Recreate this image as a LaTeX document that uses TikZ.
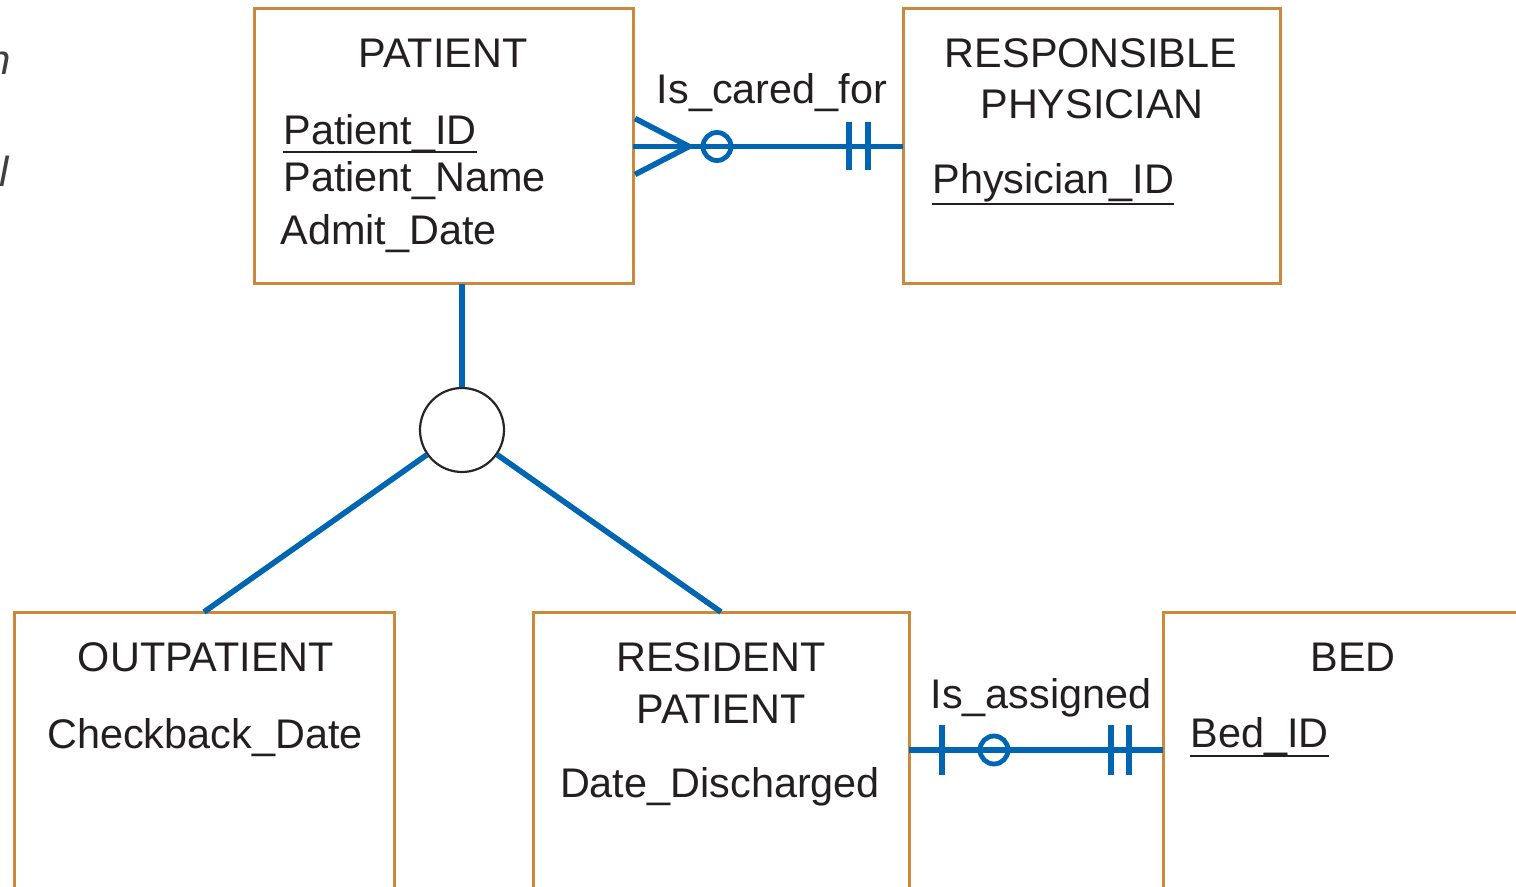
\documentclass[tikz,border=0pt]{standalone}
\usepackage{fontspec}
\setmainfont{Liberation Sans}
\usetikzlibrary{calc}
\definecolor{boxorange}{RGB}{204,137,60}
\definecolor{linkblue}{RGB}{0,102,178}
\definecolor{ink}{RGB}{35,31,32}

\begin{document}
\begin{tikzpicture}[x=0.5pt,y=-0.5pt,
  entity/.style={draw=boxorange, line width=1.5pt, anchor=north west,
                 inner sep=0pt, outer sep=0pt, rectangle},
  txt/.style={inner sep=0pt, text=ink, font=\fontsize{20.7}{25}\selectfont},
  keyline/.style={draw=ink, line width=1.4pt},
  link/.style={draw=linkblue, line width=2.8pt},
  notch/.style={draw=linkblue, line width=2.6pt},
  ring/.style={draw=linkblue, line width=2.4pt},
  isa/.style={circle, draw=black!85, line width=1.1pt, fill=white,
              minimum size=42pt, inner sep=0pt},
  margintxt/.style={inner sep=0pt, text=black!75,
                    font=\fontsize{21}{25}\selectfont\itshape}]
\useasboundingbox (0,0) rectangle (1516,887);
\clip (0,0) rectangle (1516,887);

% entity boxes (the lower row runs past the bottom edge)
\node[entity, minimum width=189.5pt, minimum height=137.5pt] (patient)   at (254,9)   {};
\node[entity, minimum width=188.5pt, minimum height=137.5pt] (physician) at (903,9)   {};
\node[entity, minimum width=190pt,   minimum height=200pt]   (outpat)    at (14,612)  {};
\node[entity, minimum width=188pt,   minimum height=200pt]   (resident)  at (533,612) {};
\node[entity, minimum width=250pt,   minimum height=200pt]   (bed)       at (1163,612) {};

% cut-off caption letters at the left margin
\node[margintxt, anchor=base east] (capA) at (11,75)  {n};
\node[margintxt, anchor=base east] (capB) at (9,187)  {l};

% PATIENT
\node[txt, anchor=base]      (ptitle) at (443,68)  {PATIENT};
\node[txt, anchor=base west] (pid)    at (283,145) {Patient\_ID};
\node[txt, anchor=base west] (pname)  at (283,192) {Patient\_Name};
\node[txt, anchor=base west] (padmit) at (280,245) {Admit\_Date};
\draw[keyline] ([yshift=-3.5pt]pid.base west) -- ([yshift=-3.5pt]pid.base east);

% RESPONSIBLE PHYSICIAN
\node[txt, anchor=base]      (rtitleA) at (1091,68)  {RESPONSIBLE};
\node[txt, anchor=base]      (rtitleB) at (1092,119) {PHYSICIAN};
\node[txt, anchor=base west] (phid)    at (932,194)  {Physician\_ID};
\draw[keyline] ([yshift=-5pt]phid.base west) -- ([yshift=-5pt]phid.base east);

% OUTPATIENT
\node[txt, anchor=base] (otitle) at (206,671) {OUTPATIENT};
\node[txt, anchor=base] (ocheck) at (205,748) {Checkback\_Date};

% RESIDENT PATIENT
\node[txt, anchor=base] (stitleA) at (721,671) {RESIDENT};
\node[txt, anchor=base] (stitleB) at (721,723) {PATIENT};
\node[txt, anchor=base] (sdis)    at (720,797) {Date\_Discharged};

% BED
\node[txt, anchor=base]      (btitle) at (1353,671) {BED};
\node[txt, anchor=base west] (bid)    at (1190,747) {Bed\_ID};
\draw[keyline] ([yshift=-4.5pt]bid.base west) -- ([yshift=-4.5pt]bid.base east);

% subtype circle and its links
\node[isa] (sub) at (462,430) {};
\draw[link] (sub.north) -- (sub.north |- patient.south);
\draw[link] (sub) -- (outpat.north);
\draw[link] (sub) -- (resident.north);

% Is_cared_for: many (optional) patients to one physician
\node[txt, anchor=base] (cared) at (772,104) {Is\_cared\_for};
\draw[link] (patient.east) -- (physician.west);
\draw[link, line join=miter] ($(patient.east)+(2,-28)$) -- ($(patient.east)+(56,0)$)
                              -- ($(patient.east)+(2,28)$);
\draw[ring] ($(patient.east)+(84,0)$) circle (7pt);
\draw[notch] ($(physician.west)+(-54,-24)$) -- ($(physician.west)+(-54,24)$);
\draw[notch] ($(physician.west)+(-35,-24)$) -- ($(physician.west)+(-35,24)$);

% Is_assigned: one (optional) resident patient to one bed
\coordinate (asgL) at ($(resident.north east)+(0,138)$);
\coordinate (asgR) at ($(bed.north west)+(0,138)$);
\node[txt, anchor=base] (assigned) at (1041,708) {Is\_assigned};
\draw[link] (asgL) -- (asgR);
\draw[notch] ($(asgL)+(33,-25)$) -- ($(asgL)+(33,25)$);
\draw[ring] ($(asgL)+(85,0)$) circle (7pt);
\draw[notch] ($(asgR)+(-52,-25)$) -- ($(asgR)+(-52,25)$);
\draw[notch] ($(asgR)+(-34,-25)$) -- ($(asgR)+(-34,25)$);
\end{tikzpicture}
\end{document}
